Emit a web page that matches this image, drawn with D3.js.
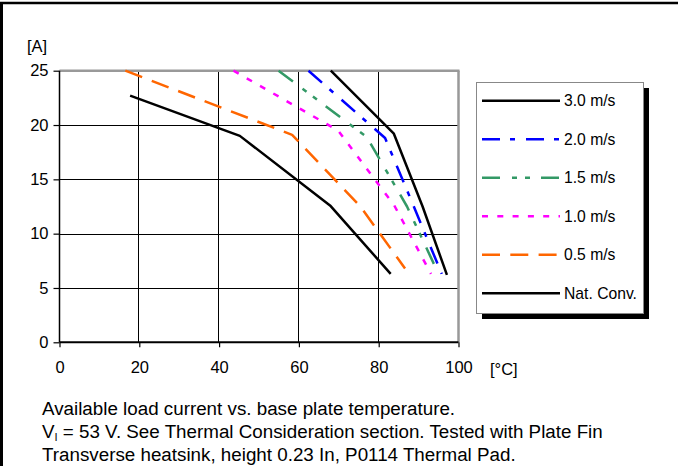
<!DOCTYPE html>
<html><head><meta charset="utf-8">
<script src="https://cdn.jsdelivr.net/npm/d3@7/dist/d3.min.js"></script>
<style>
body{margin:0;background:#fff}
svg text{font-family:"Liberation Sans",Arial,Helvetica,sans-serif;fill:#000}
</style></head>
<body>
<svg id="chart" width="678" height="466"></svg>
<script>
// ---- data ----
const seriesNames = ["3.0 m/s", "2.0 m/s", "1.5 m/s", "1.0 m/s", "0.5 m/s", "Nat. Conv."];
const temp30 = [68.0, 83.8, 91.0, 97.1];
const amp30  = [25.0, 19.2, 12.5, 6.2];
const temp20 = [62.4, 81.6, 88.8, 95.8];
const amp20  = [25.0, 18.8, 12.5, 6.3];
const temp15 = [54.9, 77.0, 87.1, 95.0];
const amp15  = [25.0, 18.9, 12.5, 6.3];
const temp10 = [43.6, 69.8, 83.9, 93.1];
const amp10  = [25.0, 19.5, 12.6, 6.3];
const temp05 = [16.5, 58.3, 75.4, 86.6];
const amp05  = [25.0, 19.1, 12.5, 6.8];
const tempNC = [17.7, 45.2, 67.8, 83.0];
const ampNC  = [22.7, 19.0, 12.6, 6.3];
const xTicks = [0, 20, 40, 60, 80, 100];
const yTicks = [0, 5, 10, 15, 20, 25];
const captionLines = [
  "Available load current vs. base plate temperature.",
  "= 53 V. See Thermal Consideration section. Tested with Plate Fin",
  "Transverse heatsink, height 0.23 In, P0114 Thermal Pad."
];

const seriesTemps = [temp30, temp20, temp15, temp10, temp05, tempNC];
const seriesAmps  = [amp30, amp20, amp15, amp10, amp05, ampNC];
const colors = ["#000000", "#0000ff", "#339966", "#ff00ff", "#ff6600", "#000000"];
const dashes = [null, "18,10,5,11", "18,12,5,8,5,11", "6,9.3", "18,10.3", null];

const svg = d3.select("#chart");
const font = '"Liberation Sans",Arial,sans-serif';
const axisFs = "16.5px";

// frame
svg.append("line").attr("x1", 0).attr("x2", 678).attr("y1", 3).attr("y2", 3)
  .attr("stroke", "#000").attr("stroke-width", 2.5);
svg.append("line").attr("x1", 1.5).attr("x2", 1.5).attr("y1", 2).attr("y2", 466)
  .attr("stroke", "#000").attr("stroke-width", 3);

const x = d3.scaleLinear().domain([0, 100]).range([59.5, 458.5]);
const y = d3.scaleLinear().domain([0, 25]).range([342.3, 70.7]);

// grid
const g = svg.append("g");
g.selectAll("line.hg").data(yTicks.filter(v => v > 0 && v < 25)).join("line")
  .attr("x1", x(0)).attr("x2", x(100)).attr("y1", d => Math.round(y(d)) + 0.5).attr("y2", d => Math.round(y(d)) + 0.5)
  .attr("stroke", "#000").attr("stroke-width", 1);
g.selectAll("line.vg").data(xTicks.filter(v => v > 0 && v < 100)).join("line")
  .attr("y1", y(0)).attr("y2", y(25)).attr("x1", d => Math.round(x(d)) - 0.5).attr("x2", d => Math.round(x(d)) - 0.5)
  .attr("stroke", "#000").attr("stroke-width", 1);
// top/right border gray
g.append("line").attr("x1", x(0)).attr("x2", x(100) + 1).attr("y1", y(25)).attr("y2", y(25))
  .attr("stroke", "#999").attr("stroke-width", 2.5);
g.append("line").attr("x1", x(100)).attr("x2", x(100)).attr("y1", y(25)).attr("y2", y(0))
  .attr("stroke", "#999").attr("stroke-width", 2.5);

// axes
const yAxis = d3.axisLeft(y).tickValues(yTicks).tickSize(6).tickPadding(5);
const ya = svg.append("g").attr("transform", `translate(${x(0)},0)`).call(yAxis);
ya.select(".domain").attr("stroke", "#000").attr("stroke-width", 1.5).attr("d", `M0,${y(0)}V${y(25)}`);
ya.selectAll(".tick line").attr("stroke", "#000").attr("stroke-width", 1.2);
ya.selectAll(".tick text").style("font-family", font).style("font-size", axisFs).attr("fill", "#000");

const xAxis = d3.axisBottom(x).tickValues(xTicks).tickSize(5).tickPadding(14);
const xa = svg.append("g").attr("transform", `translate(0,${y(0)})`).call(xAxis);
xa.select(".domain").attr("stroke", "#000").attr("stroke-width", 2).attr("d", `M${x(0)},0H${x(100)}`);
xa.selectAll(".tick line").attr("stroke", "#000").attr("stroke-width", 1.2);
xa.selectAll(".tick text").style("font-family", font).style("font-size", axisFs).attr("fill", "#000");

svg.append("text").attr("x", 27).attr("y", 52).style("font-size", axisFs).text("[A]");
svg.append("text").attr("x", 490).attr("y", 375).style("font-size", axisFs).text("[°C]");

// series
const line = d3.line().x(d => x(d[0])).y(d => y(d[1]));
seriesNames.forEach((name, i) => {
  const pts = seriesTemps[i].map((t, j) => [t, seriesAmps[i][j]]);
  const p = svg.append("path").datum(pts).attr("d", line)
    .attr("fill", "none").attr("stroke", colors[i]).attr("stroke-width", 2.5)
    .attr("stroke-linejoin", "round");
  if (dashes[i]) p.attr("stroke-dasharray", dashes[i]);
});

// legend
const lg = svg.append("g");
lg.append("rect").attr("x", 482).attr("y", 88).attr("width", 167).attr("height", 231).attr("fill", "#000");
lg.append("rect").attr("x", 476.5).attr("y", 82.5).attr("width", 167).attr("height", 231)
  .attr("fill", "#fff").attr("stroke", "#888").attr("stroke-width", 1);
seriesNames.forEach((name, i) => {
  const yy = 100.7 + i * 38.5;
  const l = lg.append("line").attr("x1", 482).attr("x2", 560).attr("y1", yy).attr("y2", yy)
    .attr("stroke", colors[i]).attr("stroke-width", 2.5);
  if (dashes[i]) l.attr("stroke-dasharray", dashes[i]);
  lg.append("text").attr("x", 564).attr("y", yy + 5.7).style("font-size", "15.7px").text(name);
});

// caption
const cap = svg.append("g").style("font-size", "18.8px");
cap.append("text").attr("x", 42).attr("y", 415).text(captionLines[0]);
const t2 = cap.append("text").attr("x", 42).attr("y", 438);
t2.append("tspan").text("V");
t2.append("tspan").attr("dy", 3).style("font-size", "11px").text("I");
t2.append("tspan").attr("dy", -3).text(" " + captionLines[1]);
cap.append("text").attr("x", 42).attr("y", 461).text(captionLines[2]);
</script>
</body></html>
